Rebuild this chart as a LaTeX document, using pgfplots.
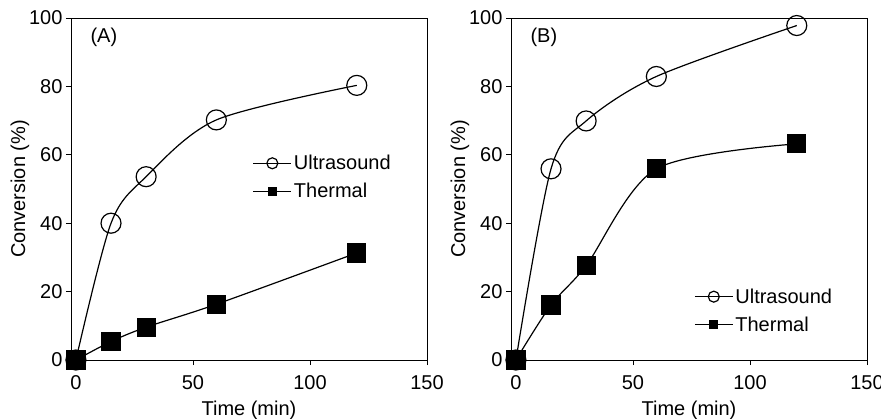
\documentclass[border=0pt]{standalone}
\usepackage{fontspec}
\setmainfont{Liberation Sans}
\usepackage{pgfplots}
\pgfplotsset{compat=1.18}

\pgfplotsset{
  panel/.style={
    scale only axis, width=356pt, height=342pt,
    xmin=-2.1, xmax=150, ymin=0, ymax=100,
    xtick={0,50,100,150}, ytick={0,20,...,100},
    tick align=outside, major tick length=5pt,
    xtick pos=bottom, ytick pos=left,
    axis line style={line width=0.8pt}, tick style={line width=0.8pt,black},
    /pgf/number format/assume math mode=true,
    tick label style={font=\fontsize{20}{23}\selectfont},
    xticklabel style={yshift=-7pt},
    label style={font=\fontsize{20}{23}\selectfont},
    xlabel={Time (min)}, ylabel={Conversion (\%)},
    xlabel style={yshift=-4pt}, ylabel style={yshift=-7pt},
    clip=false,
    legend cell align=left,
    legend style={draw=none, fill=none, font=\fontsize{20}{23}\selectfont,
      row sep=8pt, inner sep=0pt, anchor=north west},
    legend image code/.code={
      \draw[#1, mark=none] (0pt,0pt) -- (38pt,0pt);
      \draw[#1, only marks] plot coordinates {(19pt,0pt)};},
  },
  us/.style={black, line width=1.2pt, smooth, tension=0.5, mark=o,
    mark size=10pt, mark options={fill=white, line width=1.2pt}},
  th/.style={black, line width=1.2pt, smooth, tension=0.5, mark=square*,
    mark size=9pt, mark options={fill=black}},
  legus/.style={black, line width=1.2pt, mark=o, mark size=5.5pt, mark options={fill=white}},
  legth/.style={black, line width=1.2pt, mark=square*, mark size=3.8pt},
}

\begin{document}
\begin{tikzpicture}
\path[use as bounding box] (-71pt,-58pt) rectangle (810pt,360pt);

% panel A
\begin{axis}[panel, at={(0pt,0pt)}, anchor=south west,
  legend style={at={(rel axis cs:0.51,0.605)}}]
\addplot[us] coordinates {(0,0) (15,40) (30,53.6) (60,70.2) (120,80.3)};
\addplot[th] coordinates {(0,0) (15,5.4) (30,9.6) (60,16.3) (120,31.3)};
\addlegendimage{legus}
\addlegendimage{legth}
\legend{,,Ultrasound,Thermal}
\node[anchor=west, font=\fontsize{20}{23}\selectfont] at (rel axis cs:0.045,0.944) {(A)};
\end{axis}

% panel B
\begin{axis}[panel, at={(440pt,0pt)}, anchor=south west,
  legend style={at={(rel axis cs:0.514,0.215)}}]
\addplot[us] coordinates {(0,0) (15,55.9) (30,69.9) (60,82.9) (120,97.8)};
\addplot[th] coordinates {(0,0) (15,16.1) (30,27.6) (60,55.9) (120,63.2)};
\addlegendimage{legus}
\addlegendimage{legth}
\legend{,,Ultrasound,Thermal}
\node[anchor=west, font=\fontsize{20}{23}\selectfont] at (rel axis cs:0.045,0.944) {(B)};
\end{axis}
\end{tikzpicture}
\end{document}
